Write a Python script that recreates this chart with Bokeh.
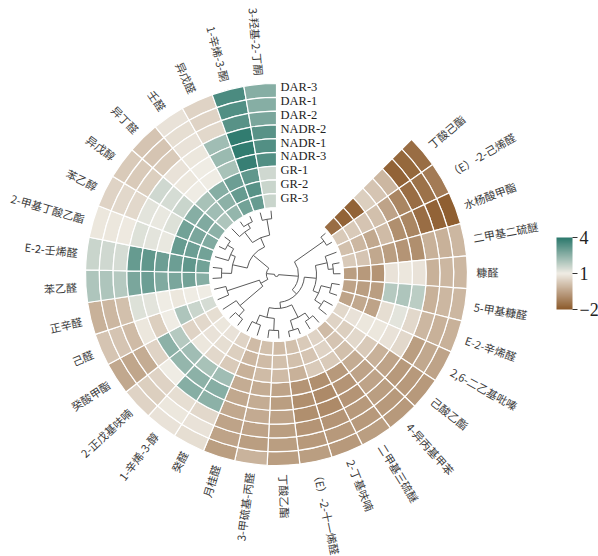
import numpy as np
from bokeh.plotting import figure
from bokeh.models import ColumnDataSource, LinearColorMapper, ColorBar, FixedTicker, Range1d
from bokeh.core.properties import value
from bokeh.embed import file_html
from bokeh.resources import INLINE

# ---------------- data ----------------
compounds = ["丁酸己酯", "（E）-2-己烯醛", "水杨酸甲酯", "二甲基二硫醚", "糠醛", "5-甲基糠醛",
             "E-2-辛烯醛", "2,6-二乙基吡嗪", "己酸乙酯", "4-异丙基甲苯", "二甲基三硫醚",
             "2-丁基呋喃", "（E）-2-十一烯醛", "丁酸乙酯", "3-甲硫基-丙醛", "月桂醛", "癸醛",
             "1-辛烯-3-醇", "2-正戊基呋喃", "癸酸甲酯", "己醛", "正辛醛", "苯乙醛", "E-2-壬烯醛",
             "2-甲基丁酸乙酯", "苯乙醇", "异戊醇", "异丁醛", "壬醛", "异戊醛", "1-辛烯-3-酮",
             "3-羟基-2-丁酮"]
samples = ["DAR-3", "DAR-1", "DAR-2", "NADR-2", "NADR-1", "NADR-3", "GR-1", "GR-2", "GR-3"]

values = [
    [-1.6, -1.7, -1.8, -0.1, 0.2, 0.4, -1.8, -1.8, -1.6],
    [-1.3, -1.5, -1.6, -1.1, -0.5, 0.1, 0.2, 0.3, 0.3],
    [-1.9, -1.8, -1.6, -1.1, -0.9, 0.0, -0.4, -0.1, 0.1],
    [-0.1, -0.2, -0.2, -0.9, -0.8, -0.6, -0.4, 0.2, 0.3],
    [-0.1, -0.1, -0.2, 0.8, 0.9, 0.8, -0.8, -0.7, -0.6],
    [-0.1, -0.1, -0.2, 1.8, 2.0, 1.9, -0.6, -0.6, -0.5],
    [-0.2, -0.2, -0.1, 0.6, 1.2, 0.7, -0.5, -0.4, -0.5],
    [-0.5, -0.4, -0.6, 0.6, 0.8, 0.9, 0.9, 0.8, 0.6],
    [-0.7, -0.7, -0.7, -0.5, -0.2, 0.3, 0.6, 0.4, 0.5],
    [-0.7, -0.7, -0.6, -0.5, -0.5, -0.3, 0.1, 0.2, 0.0],
    [-0.6, -0.7, -0.7, -0.8, -0.8, -0.7, 0.3, 0.5, 0.5],
    [-0.7, -0.7, -0.8, -1.0, -1.0, -0.9, 0.3, 0.2, 0.3],
    [-0.6, -0.7, -0.8, -0.9, -0.9, -0.8, -0.2, 0.1, 0.1],
    [-0.6, -0.6, -0.6, -0.5, -0.6, -0.5, 0.0, 0.1, 0.0],
    [-0.15, -0.6, -0.5, -0.35, -0.3, -0.3, 0.0, 0.0, 0.1],
    [-0.6, -0.5, -0.5, -0.4, -0.4, -0.3, -0.2, -0.1, 0.0],
    [0.7, 0.8, 0.6, 2.5, 2.6, 2.2, 0.3, 0.4, 0.5],
    [0.8, 0.9, 0.7, 2.6, 2.5, 2.1, 0.6, 0.7, 0.8],
    [0.5, 0.4, 0.5, 1.0, 2.4, 2.2, 0.9, 0.8, 0.9],
    [-0.4, -0.45, -0.3, 0.5, 2.5, 1.9, 0.5, 0.6, 0.7],
    [0.2, 0.2, 0.0, 0.9, 0.4, 1.0, 2.0, 1.6, 1.4],
    [-0.2, -0.1, 0.1, 1.3, 1.2, 1.0, 0.9, 1.0, 1.0],
    [2.0, 2.0, 1.9, 2.8, 3.0, 2.7, 2.8, 2.9, 2.6],
    [1.6, 1.5, 1.4, 3.1, 3.2, 3.0, 3.0, 3.2, 2.9],
    [0.9, 0.9, 0.95, 1.3, 1.2, 1.1, 3.1, 3.0, 2.9],
    [0.5, 0.6, 0.6, 1.2, 1.1, 1.3, 2.9, 2.8, 2.7],
    [0.3, 0.3, 0.4, 1.5, 1.4, 1.6, 2.6, 2.7, 2.5],
    [0.2, 0.2, 0.3, 0.8, 0.9, 1.0, 2.1, 2.2, 2.0],
    [0.8, 0.7, 0.8, 0.9, 1.0, 1.0, 2.6, 2.5, 2.4],
    [0.5, 0.5, 0.6, 2.2, 2.3, 2.1, 3.0, 3.1, 2.9],
    [3.5, 3.4, 3.3, 3.9, 3.9, 3.8, 3.2, 3.3, 3.1],
    [2.6, 2.6, 2.8, 3.3, 3.4, 3.4, 1.5, 1.6, 1.6],
]

# dendrogram: (node radius, left, right); ints are leaf indices
tree = (2,
        (10,
         (18, (48, (56, 17, 18), 19), (52, 20, 21)),
         (30, (45, (55, 22, 23), (50, 24, (57, 25, 26))),
              (40, (53, 27, (58, 28, 29)), (56, 30, 31)))),
        (22, (58, 0, 1),
         (28,
          (40, (52, 2, (57, 3, 4)), (46, (56, 5, 6), (54, 7, 8))),
          (34, (48, (55, 9, 10), (58, 11, 12)), (44, (56, 13, 14), (53, 15, 16))))))

color_ticks = [-2, 1, 4]

# ---------------- geometry ----------------
W, H = 598, 556
CX, CY = 276, 274          # centre in figure pixels (from top-left)
R_IN, R_OUT = 67.0, 191.0
n_c, n_s = len(compounds), len(samples)
ring_w = (R_OUT - R_IN) / n_s
START = 45.0               # degrees, first column edge
SPAN = 315.0 / n_c
R_LEAF = 64.0
R_LABEL = 200.0

# ---------------- palette ----------------
stops = [(-2, (140, 90, 43)), (1, (240, 236, 228)), (4, (43, 120, 108))]
def col_at(v):
    for (v0, c0), (v1, c1) in zip(stops[:-1], stops[1:]):
        if v <= v1:
            t = (v - v0) / (v1 - v0)
            return "#%02x%02x%02x" % tuple(int(round(a + (b - a) * t)) for a, b in zip(c0, c1))
    return "#%02x%02x%02x" % stops[-1][1]
palette = [col_at(v) for v in np.linspace(-2, 4, 256)]
mapper = LinearColorMapper(palette=palette, low=-2, high=4)

p = figure(width=W, height=H, output_backend="svg", toolbar_location=None,
           x_range=Range1d(-CX, W - CX), y_range=Range1d(CY - H, CY),
           x_axis_location=None, y_axis_location=None,
           min_border=0, min_border_left=0, min_border_right=0,
           min_border_top=0, min_border_bottom=0)
p.grid.visible = False
p.outline_line_color = None
p.background_fill_color = "white"

# ---------------- heatmap ----------------
ir, orr, sa, ea, vals = [], [], [], [], []
for i in range(n_c):
    a1 = np.radians(START - SPAN * i)
    a0 = np.radians(START - SPAN * (i + 1))
    for j in range(n_s):
        inner = R_IN + (n_s - 1 - j) * ring_w
        ir.append(inner)
        orr.append(inner + ring_w)
        sa.append(a0)
        ea.append(a1)
        vals.append(values[i][j])
src = ColumnDataSource(dict(ir=ir, orr=orr, sa=sa, ea=ea, v=vals))
p.annular_wedge(x=0, y=0, inner_radius="ir", outer_radius="orr", start_angle="sa",
                end_angle="ea", source=src, fill_color={"field": "v", "transform": mapper},
                line_color="white", line_width=1.2)

# ---------------- dendrogram ----------------
def leaf_angle(i):
    return np.radians(START - SPAN * (i + 0.5))

arcs = dict(r=[], a0=[], a1=[])
segs = dict(x0=[], y0=[], x1=[], y1=[])
def walk(node):
    if isinstance(node, int):
        return leaf_angle(node), R_LEAF
    r, left, right = node
    al, rl = walk(left)
    ar, rr = walk(right)
    for a, rc in ((al, rl), (ar, rr)):
        segs["x0"].append(r * np.cos(a)); segs["y0"].append(r * np.sin(a))
        segs["x1"].append(rc * np.cos(a)); segs["y1"].append(rc * np.sin(a))
    arcs["r"].append(r); arcs["a0"].append(min(al, ar)); arcs["a1"].append(max(al, ar))
    return (al + ar) / 2, r
walk(tree)
p.arc(x=0, y=0, radius="r", start_angle="a0", end_angle="a1",
      source=ColumnDataSource(arcs), line_color="#5a5a5a", line_width=1)
p.segment(x0="x0", y0="y0", x1="x1", y1="y1", source=ColumnDataSource(segs),
          line_color="#5a5a5a", line_width=1)

# ---------------- compound labels ----------------
right = dict(x=[], y=[], t=[], ang=[])
left = dict(x=[], y=[], t=[], ang=[])
for i, name in enumerate(compounds):
    a = leaf_angle(i)
    d = right if np.degrees(a) > -90 else left
    d["x"].append(R_LABEL * np.cos(a)); d["y"].append(R_LABEL * np.sin(a))
    d["t"].append(name)
    d["ang"].append(a if d is right else a + np.pi)
p.text(x="x", y="y", text="t", angle="ang", source=ColumnDataSource(right),
       text_align="left", text_baseline="middle", text_font=value("Noto Sans CJK SC"),
       text_font_size="11px", text_color="#3a3a3a")
p.text(x="x", y="y", text="t", angle="ang", source=ColumnDataSource(left),
       text_align="right", text_baseline="middle", text_font=value("Noto Sans CJK SC"),
       text_font_size="11px", text_color="#3a3a3a")

# ---------------- sample labels ----------------
sy = [R_IN + (n_s - 1 - j + 0.5) * ring_w + 3 for j in range(n_s)]
p.text(x=[4] * n_s, y=sy, text=samples, text_align="left", text_baseline="middle",
       text_font=value("Liberation Serif"), text_font_size="12.5px", text_color="#222222")

# ---------------- colour bar ----------------
cb = ColorBar(color_mapper=mapper, ticker=FixedTicker(ticks=color_ticks),
              major_label_overrides={-2: "\u22122", 1: "1", 4: "4"},
              width=16, height=72, location=(556, 247), padding=0, margin=0,
              background_fill_alpha=0, border_line_color=None, bar_line_color=None,
              major_tick_out=5, major_tick_in=0, major_tick_line_color="#333333",
              label_standoff=2, major_label_text_font="Liberation Serif",
              major_label_text_font_size="18px", major_label_text_color="#222222")
p.add_layout(cb)

open("out.html", "w").write(file_html(p, INLINE))
